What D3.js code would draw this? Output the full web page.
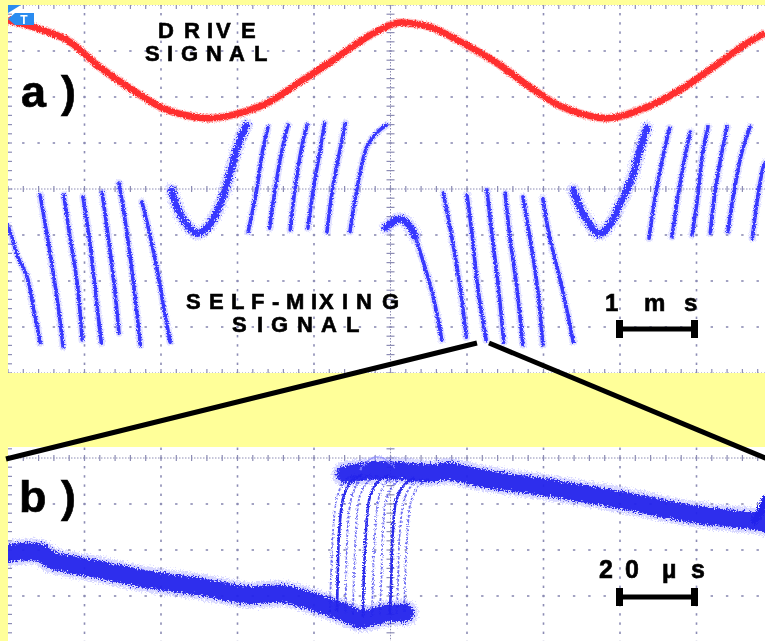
<!DOCTYPE html>
<html>
<head>
<meta charset="utf-8">
<script src="https://cdnjs.cloudflare.com/ajax/libs/d3/7.8.5/d3.min.js"></script>
<style>
    body { margin: 0; background: #ffff99; }
    svg { display: block; }
</style>
</head>
<body>
<div id="grafica"></div>
<script>
/* DATOS: eje x en divisiones de pantalla (0-10), eje y en divisiones */

/* panel a) senal de excitacion (roja) */
var senalExcitacion = [[0,3.67],[0.33,3.52],[0.77,3.24],[1.20,2.65],[1.63,2.15],[2.08,1.72],[2.60,1.54],
    [2.94,1.61],[3.39,1.87],[3.82,2.33],[4.25,2.80],[4.69,3.30],[5.08,3.61],[5.23,3.61],[5.52,3.52],
    [5.95,3.17],[6.39,2.74],[6.82,2.22],[7.25,1.78],[7.83,1.54],[8.35,1.78],[8.78,2.15],[9.22,2.65],
    [9.66,3.17],[9.90,3.39]];

/* panel a) franjas de auto-mezcla que bajan */
var franjasBajada = [
    [[0,-0.80],[0.05,-1.04],[0.13,-1.48],[0.25,-1.91],[0.33,-2.57],[0.39,-3.07],[0.42,-3.35]],
    [[0.42,-0.13],[0.55,-1.39],[0.65,-2.48],[0.72,-3.43]],
    [[0.73,-0.13],[0.81,-1.04],[0.90,-1.98],[0.97,-3.28]],
    [[0.98,-0.17],[1.07,-1.17],[1.16,-2.48],[1.22,-3.35]],
    [[1.23,-0.07],[1.31,-1.04],[1.40,-2.26],[1.45,-3.13]],
    [[1.45,0.13],[1.53,-0.67],[1.63,-1.91],[1.73,-3.39]],
    [[1.75,-0.28],[1.82,-0.74],[1.95,-1.76],[2.05,-2.70],[2.12,-3.33]],
    [[5.32,-1.02],[5.42,-1.54],[5.56,-2.35],[5.67,-3.28]],
    [[5.69,-0.09],[5.80,-1.04],[5.91,-2.13],[5.99,-3.22]],
    [[6.00,-0.13],[6.07,-1.04],[6.14,-2.13],[6.25,-3.28]],
    [[6.26,-0.02],[6.33,-1.04],[6.41,-2.13],[6.48,-3.33]],
    [[6.50,-0.09],[6.56,-1.04],[6.65,-2.13],[6.73,-3.39]],
    [[6.73,-0.17],[6.82,-1.04],[6.92,-2.13],[6.99,-3.39]],
    [[6.99,-0.20],[7.08,-1.04],[7.24,-2.13],[7.39,-3.33]]
];

/* panel a) franjas que suben */
var franjasSubida = [
    [[3.14,-0.93],[3.25,-0.02],[3.33,0.85],[3.40,1.35]],
    [[3.42,-0.85],[3.49,-0.02],[3.59,0.91],[3.66,1.39]],
    [[3.69,-0.89],[3.75,-0.02],[3.84,0.91],[3.91,1.39]],
    [[3.92,-0.85],[3.99,-0.02],[4.08,0.85],[4.14,1.43]],
    [[4.17,-0.93],[4.24,-0.02],[4.34,0.85],[4.41,1.43]],
    [[4.47,-0.93],[4.56,-0.02],[4.69,0.91],[4.82,1.22],[4.95,1.39]],
    [[8.38,-1.07],[8.46,-0.17],[8.56,0.70],[8.65,1.33]],
    [[8.68,-1.04],[8.75,-0.24],[8.85,0.70],[8.92,1.24]],
    [[8.94,-1.00],[9.01,-0.24],[9.08,0.78],[9.15,1.35]],
    [[9.18,-0.96],[9.24,-0.09],[9.33,0.78],[9.40,1.35]],
    [[9.41,-0.93],[9.48,-0.17],[9.59,0.78],[9.70,1.35]],
    [[9.73,-1.07],[9.79,-0.30],[9.87,0.46],[9.90,0.57]]
];

/* panel a) tramos gruesos (cambio de sentido) */
var curvasU = [
    [[2.14,-0.02],[2.21,-0.39],[2.34,-0.78],[2.47,-0.96],[2.60,-0.85],[2.73,-0.50],[2.84,-0.02],[2.94,0.57],[3.03,1.07],[3.12,1.39]],
    [[7.39,-0.02],[7.48,-0.41],[7.61,-0.78],[7.73,-0.98],[7.88,-0.74],[8.00,-0.33],[8.16,0.26],[8.26,0.85],[8.35,1.33]],
    [[4.94,-0.85],[5.02,-0.72],[5.12,-0.65],[5.23,-0.76],[5.32,-1.02]]
];

/* panel b) detalle de una franja */
var bandaInferior = [[0,-2.07],[0.42,-2.05],[0.55,-2.20],[1.20,-2.43],[1.86,-2.65],[2.51,-2.80],[3.16,-2.98],
    [3.59,-2.95],[4.04,-3.15],[4.47,-3.41],[4.60,-3.50],[4.99,-3.37],[5.19,-3.37]];
var bandaSuperior = [[4.41,-0.35],[4.90,-0.26],[5.56,-0.33],[5.74,-0.28],[6.17,-0.43],[6.60,-0.54],[7.08,-0.65],
    [7.48,-0.76],[8.00,-0.91],[8.78,-1.17],[9.22,-1.28],[9.66,-1.35],[9.90,-1.41]];
var saltos = [
    [[4.21,-3.35],[4.22,-2.65],[4.25,-1.57],[4.31,-0.80],[4.41,-0.48],[4.54,-0.37]],
    [[4.30,-3.33],[4.31,-2.65],[4.33,-1.57],[4.39,-0.82],[4.50,-0.48],[4.63,-0.37]],
    [[4.41,-3.38],[4.42,-2.65],[4.44,-1.55],[4.50,-0.80],[4.61,-0.47],[4.74,-0.37]],
    [[4.51,-3.40],[4.52,-2.65],[4.55,-1.57],[4.60,-0.83],[4.71,-0.50],[4.84,-0.39]],
    [[4.64,-3.45],[4.65,-2.65],[4.68,-1.60],[4.73,-0.85],[4.84,-0.50],[4.97,-0.39]],
    [[4.76,-3.45],[4.77,-2.65],[4.80,-1.60],[4.85,-0.85],[4.95,-0.52],[5.08,-0.41]],
    [[4.86,-3.40],[4.88,-2.65],[4.90,-1.60],[4.95,-0.87],[5.06,-0.54],[5.19,-0.41]],
    [[4.99,-3.40],[5.01,-2.65],[5.03,-1.62],[5.08,-0.89],[5.19,-0.57],[5.32,-0.43]],
    [[5.08,-3.38],[5.10,-2.65],[5.12,-1.65],[5.18,-0.91],[5.28,-0.59],[5.41,-0.45]],
    [[5.18,-3.35],[5.19,-2.65],[5.22,-1.65],[5.27,-0.93],[5.37,-0.61],[5.50,-0.46]]
];
var sobreoscilacion = [[4.60,-0.26],[4.72,-0.04],[4.84,0.02],[4.96,-0.06],[5.06,-0.22]];
var repunte = [[9.76,-1.35],[9.84,-1.15],[9.90,-0.91]];

function grafica() {
    var w = 765,
        h = 641;

    var palette = {
        "yellow": "#ffff99",
        "grid": "#8c8cb4",
        "red": "#ff2e2e",
        "redHalo": "#ff7a7a",
        "blue": "#3838ff",
        "blueHalo": "#8f8fff",
        "deepblue": "#2222ec",
        "trigger": "#2a8cf0",
        "black": "#000000"
    };

    var xs = d3.scaleLinear().domain([0, 10]).range([8, 773]);
    var ya = d3.scaleLinear().domain([4, -4]).range([5, 373]);
    var yb = d3.scaleLinear().domain([0, -4]).range([458, 642]);

    var svg = d3.select("#grafica")
        .append("svg")
        .attr("width", w)
        .attr("height", h);

    var defs = svg.append("defs");

    //FILTROS DE RUIDO
    function filtroRuido(id, escala, frecuencia) {
        var f = defs.append("filter")
            .attr("id", id)
            .attr("filterUnits", "userSpaceOnUse")
            .attr("x", 0).attr("y", 0)
            .attr("width", w).attr("height", h);
        f.append("feTurbulence")
            .attr("type", "fractalNoise")
            .attr("baseFrequency", frecuencia)
            .attr("numOctaves", 2)
            .attr("seed", 7)
            .attr("result", "ruido");
        f.append("feDisplacementMap")
            .attr("in", "SourceGraphic")
            .attr("in2", "ruido")
            .attr("scale", escala)
            .attr("xChannelSelector", "R")
            .attr("yChannelSelector", "G");
    }
    filtroRuido("ruidoFino", 4, 0.9);
    filtroRuido("ruidoGrueso", 9, 0.7);

    //CLIPS
    defs.append("clipPath").attr("id", "clipA")
        .append("rect").attr("x", 8).attr("y", 5).attr("width", w - 8).attr("height", 368);
    defs.append("clipPath").attr("id", "clipB")
        .append("rect").attr("x", 8).attr("y", 447).attr("width", w - 8).attr("height", h - 447);

    //FONDO
    svg.append("rect").attr("width", w).attr("height", h).attr("fill", palette.yellow);
    svg.append("rect").attr("x", 8).attr("y", 5).attr("width", w - 8).attr("height", 368).attr("fill", "#ffffff");
    svg.append("rect").attr("x", 8).attr("y", 447).attr("width", w - 8).attr("height", h - 447).attr("fill", "#ffffff");

    var panelA = svg.append("g").attr("clip-path", "url(#clipA)");
    var panelB = svg.append("g").attr("clip-path", "url(#clipB)");

    //REJILLA
    function rejilla(g, ys, lineasY, menoresY, bordes) {
        var menoresX = d3.range(0, 51).map(function(i) { return i * 0.2; });
        var yTop = ys(d3.max(menoresY)) - 6,
            yBot = ys(d3.min(menoresY)) + 2;
        var rg = g.append("g").attr("fill", palette.grid).attr("stroke", palette.grid);

        d3.range(0, 11).forEach(function(k) {
            var x = xs(k);
            if (k === 5) {
                rg.append("line")
                    .attr("x1", x).attr("x2", x).attr("y1", yTop).attr("y2", yBot)
                    .attr("stroke-width", 1).attr("stroke-dasharray", "1.5 1.5");
                rg.selectAll(null).data(menoresY).enter().append("line")
                    .attr("x1", x - 4).attr("x2", x + 4)
                    .attr("y1", function(d) { return ys(d); })
                    .attr("y2", function(d) { return ys(d); })
                    .attr("stroke-width", 1.2);
            } else if (k === 0) {
                rg.selectAll(null).data(menoresY).enter().append("line")
                    .attr("x1", x).attr("x2", x + 4)
                    .attr("y1", function(d) { return ys(d); })
                    .attr("y2", function(d) { return ys(d); })
                    .attr("stroke-width", 1.2);
            } else {
                rg.selectAll(null).data(menoresY).enter().append("rect")
                    .attr("x", x - 0.8).attr("y", function(d) { return ys(d) - 1.2; })
                    .attr("width", 1.6).attr("height", 2.4)
                    .attr("stroke", "none");
            }
        });

        lineasY.forEach(function(j) {
            var y = ys(j);
            if (j === 0) {
                rg.append("line")
                    .attr("x1", 8).attr("x2", w).attr("y1", y).attr("y2", y)
                    .attr("stroke-width", 1).attr("stroke-dasharray", "1.5 1.5");
                rg.selectAll(null).data(menoresX).enter().append("line")
                    .attr("x1", function(d) { return xs(d); })
                    .attr("x2", function(d) { return xs(d); })
                    .attr("y1", y - 3).attr("y2", y + 3)
                    .attr("stroke-width", 1.2);
            } else if (bordes.indexOf(j) >= 0) {
                var dir = j > 0 ? 1 : -1;
                rg.append("line")
                    .attr("x1", 8).attr("x2", w).attr("y1", y).attr("y2", y)
                    .attr("stroke-width", 1).attr("stroke-dasharray", "1 2");
                rg.selectAll(null).data(menoresX).enter().append("line")
                    .attr("x1", function(d) { return xs(d); })
                    .attr("x2", function(d) { return xs(d); })
                    .attr("y1", y).attr("y2", y + dir * 4)
                    .attr("stroke-width", 1.2);
            } else {
                rg.selectAll(null).data(menoresX).enter().append("rect")
                    .attr("x", function(d) { return xs(d) - 1.2; }).attr("y", y - 0.8)
                    .attr("width", 2.4).attr("height", 1.6)
                    .attr("stroke", "none");
            }
        });
    }

    var menoresA = d3.range(0, 41).map(function(i) { return -4 + i * 0.2; });
    var menoresB = d3.range(0, 22).map(function(i) { return -4 + i * 0.2; });
    rejilla(panelA, ya, [4, 3, 2, 1, 0, -1, -2, -3, -4], menoresA, [4, -4]);
    rejilla(panelB, yb, [0, -1, -2, -3, -4], menoresB, []);

    //TRAZOS
    var lineaA = d3.line()
        .x(function(d) { return xs(d[0]); })
        .y(function(d) { return ya(d[1]); })
        .curve(d3.curveCatmullRom.alpha(0.5));
    var lineaB = d3.line()
        .x(function(d) { return xs(d[0]); })
        .y(function(d) { return yb(d[1]); })
        .curve(d3.curveCatmullRom.alpha(0.5));

    //senal de excitacion
    var roja = panelA.append("g").attr("filter", "url(#ruidoFino)").attr("fill", "none");
    roja.append("path").attr("d", lineaA(senalExcitacion))
        .attr("stroke", palette.redHalo).attr("stroke-width", 9).attr("opacity", 0.45);
    roja.append("path").attr("d", lineaA(senalExcitacion))
        .attr("stroke", palette.red).attr("stroke-width", 6.5);

    //senal de auto-mezcla
    var azul = panelA.append("g").attr("filter", "url(#ruidoFino)").attr("fill", "none")
        .attr("stroke-linecap", "round");
    var franjas = franjasBajada.concat(franjasSubida);
    azul.selectAll(".halo").data(franjas).enter().append("path")
        .attr("class", "halo")
        .attr("d", function(d) { return lineaA(d); })
        .attr("stroke", palette.blueHalo).attr("stroke-width", 7.5).attr("opacity", 0.28);
    azul.selectAll(".franja").data(franjas).enter().append("path")
        .attr("class", "franja")
        .attr("d", function(d) { return lineaA(d); })
        .attr("stroke", palette.blue).attr("stroke-width", 3.6);

    var gruesa = panelA.append("g").attr("filter", "url(#ruidoGrueso)").attr("fill", "none")
        .attr("stroke-linecap", "round");
    gruesa.selectAll(".haloU").data(curvasU).enter().append("path")
        .attr("class", "haloU")
        .attr("d", function(d) { return lineaA(d); })
        .attr("stroke", palette.blueHalo).attr("stroke-width", 13).attr("opacity", 0.3);
    gruesa.selectAll(".curvaU").data(curvasU).enter().append("path")
        .attr("class", "curvaU")
        .attr("d", function(d) { return lineaA(d); })
        .attr("stroke", palette.blue).attr("stroke-width", 7);

    //panel b
    var bandas = panelB.append("g").attr("filter", "url(#ruidoGrueso)").attr("fill", "none")
        .attr("stroke-linecap", "round");
    [bandaInferior, bandaSuperior].forEach(function(b) {
        bandas.append("path").attr("d", lineaB(b))
            .attr("stroke", palette.blueHalo).attr("stroke-width", 26).attr("opacity", 0.35);
        bandas.append("path").attr("d", lineaB(b))
            .attr("stroke", palette.deepblue).attr("stroke-width", 18).attr("opacity", 0.92);
    });
    bandas.append("path").attr("d", lineaB(repunte))
        .attr("stroke", palette.deepblue).attr("stroke-width", 8);

    var trazas = panelB.append("g").attr("filter", "url(#ruidoFino)").attr("fill", "none");
    trazas.selectAll(".salto").data(saltos).enter().append("path")
        .attr("class", "salto")
        .attr("d", function(d) { return lineaB(d); })
        .attr("stroke", palette.deepblue)
        .attr("stroke-width", function(d, i) { return i % 3 === 1 ? 2.6 : 1.8; })
        .attr("stroke-dasharray", function(d, i) { return i % 3 === 1 ? null : "3 1.5"; })
        .attr("opacity", function(d, i) { return i % 3 === 1 ? 0.95 : 0.65; });
    trazas.append("path").attr("d", lineaB(sobreoscilacion))
        .attr("stroke", palette.blueHalo).attr("stroke-width", 1.5).attr("opacity", 0.8);

    //MARCA DE DISPARO
    svg.append("polygon")
        .attr("points", "8,5 21,5 8,13")
        .attr("fill", palette.trigger);
    svg.append("polygon")
        .attr("points", "8,19 15,13 34,13 34,25 15,25")
        .attr("fill", palette.trigger);
    svg.append("text")
        .text("T")
        .attr("x", 24).attr("y", 24)
        .attr("font-family", "Liberation Sans, Arial, sans-serif")
        .attr("font-size", "12px").attr("font-weight", "bold")
        .attr("fill", "#ffffff").attr("text-anchor", "middle");

    //TEXTOS
    function rotulo(texto, xsLetras, y, tam) {
        svg.append("text")
            .text(texto)
            .attr("x", xsLetras.join(" "))
            .attr("y", y)
            .attr("font-family", "Liberation Sans, Arial, sans-serif")
            .attr("font-weight", "bold")
            .attr("font-size", tam + "px")
            .attr("fill", palette.black)
            .attr("stroke", palette.black)
            .attr("stroke-width", 0.6);
    }
    rotulo("DRIVE", [158, 184, 207, 216, 241], 38, 22);
    rotulo("SIGNAL", [145, 167, 181, 206, 229, 254], 61, 22);
    rotulo("SELF-MIXING", [186, 209, 231, 251, 272, 286, 311, 319, 342, 356, 382], 309, 22);
    rotulo("SIGNAL", [232, 257, 271, 297, 321, 346], 332, 22);
    rotulo("1ms", [605, 644, 684], 311, 24);
    rotulo("20µs", [599, 625, 662, 691], 578, 25);
    rotulo("a)", [21, 61], 107, 45);
    rotulo("b)", [19, 61], 512, 45);

    //BARRAS DE ESCALA
    [329, 597].forEach(function(y) {
        svg.append("line").attr("x1", 620).attr("x2", 694).attr("y1", y).attr("y2", y)
            .attr("stroke", palette.black).attr("stroke-width", 5);
        svg.append("rect").attr("x", 616).attr("y", y - 9).attr("width", 7).attr("height", 18)
            .attr("fill", palette.black);
        svg.append("rect").attr("x", 691).attr("y", y - 9).attr("width", 7).attr("height", 18)
            .attr("fill", palette.black);
    });

    //LINEAS DE AMPLIACION
    svg.append("line").attr("x1", 6).attr("y1", 459).attr("x2", 477).attr("y2", 343)
        .attr("stroke", palette.black).attr("stroke-width", 5);
    svg.append("line").attr("x1", 489).attr("y1", 343).attr("x2", 770).attr("y2", 460)
        .attr("stroke", palette.black).attr("stroke-width", 5);
}

grafica();
</script>
</body>
</html>
